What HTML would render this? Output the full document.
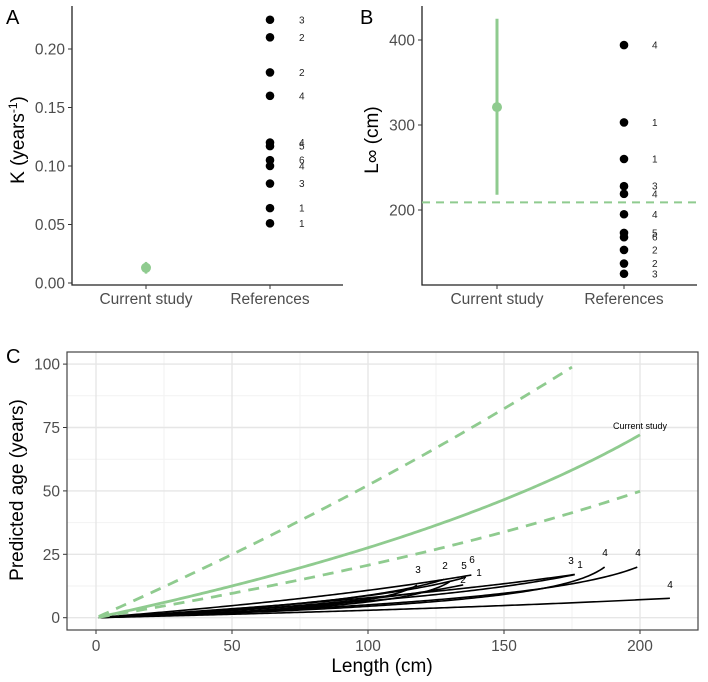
<!DOCTYPE html>
<html><head><meta charset="utf-8"><style>
html,body{margin:0;padding:0;background:#fff;}
svg{display:block;font-family:"Liberation Sans",sans-serif;}
</style></head><body>
<svg id="fig" width="708" height="682" viewBox="0 0 708 682">
<g id="pa"></g>
<g id="pb"></g>
<g id="pc"></g>
</svg>
<script>
// Panel A data
const kRefValues = [0.225,0.21,0.18,0.16,0.12,0.117,0.105,0.10,0.085,0.064,0.051];
const kRefLabels = ["3","2","2","4","4","5","6","4","3","1","1"];
const kCurrent = [0.013];
const kCurrentLow = [0.008];
const kCurrentHigh = [0.018];
const kTicks = [0,0.05,0.10,0.15,0.20];
const kTickLabels = ["0.00","0.05","0.10","0.15","0.20"];
// Panel B data
const lRefValues = [394,303,260,228,219,195,173,168,153,137,125];
const lRefLabels = ["4","1","1","3","4","4","5","6","2","2","3"];
const lCurrent = [321];
const lCurrentLow = [218];
const lCurrentHigh = [425];
const lDashed = [209];
const lTicks = [200,300,400];
// Panel C data
const curLinf = [321,600,400];
const curK = [0.01353,0.00349,0.0139];
const curLmax = [200,175,200];
const curDash = [false,true,true];
const refLinf = [394,219,195,228,303,260,168,173,153,137,125];
const refK = [0.10,0.12,0.16,0.087,0.051,0.045,0.104,0.117,0.12,0.21,0.225];
const refLmax = [211,199,187,176,176,138,136,135,128,130,118];
const cXTicks = [0,50,100,150,200];
const cYTicks = [0,25,50,75,100];

const NS="http://www.w3.org/2000/svg";
const GREEN="#8fcb8f";
function mk(parent,tag,attrs,text){const e=document.createElementNS(NS,tag);for(const k in attrs)e.setAttribute(k,attrs[k]);if(text!==undefined)e.textContent=text;parent.appendChild(e);return e;}

// ---------- Panel A ----------
const pa=document.getElementById('pa');
const yA=v=>283-v*1170;
const xCatA=[146,270];
let t=mk(pa,'text',{x:6,y:24,'font-size':20,fill:'#000'},'A');


let ax=mk(pa,'path',{d:'M72,6 V285 H343',stroke:'#222','stroke-width':1.3,fill:'none'});


kTicks.forEach((v,i)=>{
  mk(pa,'line',{x1:68,x2:72,y1:yA(v),y2:yA(v),stroke:'#333'});
  const e=mk(pa,'text',{x:65,y:yA(v)+5.5,'font-size':15.5,'text-anchor':'end',fill:'#4d4d4d'},kTickLabels[i]);
  
  
});
["Current study","References"].forEach((c,i)=>{
  mk(pa,'line',{x1:xCatA[i],x2:xCatA[i],y1:285,y2:289,stroke:'#333'});
  const e=mk(pa,'text',{x:xCatA[i],y:304,'font-size':15.5,'text-anchor':'middle',fill:'#4d4d4d'},c);
  
  
});
t=mk(pa,'text',{x:0,y:0,'font-size':19,'text-anchor':'middle',fill:'#000',transform:'translate(24,140) rotate(-90)'});


t.innerHTML='K (years<tspan dy="-7" font-size="12">-1</tspan><tspan dy="7">)</tspan>';
let eb=mk(pa,'line',{x1:xCatA[0],x2:xCatA[0],y1:yA(kCurrentLow[0]),y2:yA(kCurrentHigh[0]),stroke:GREEN,'stroke-width':2.5});


let cp=mk(pa,'circle',{cx:xCatA[0],cy:yA(kCurrent[0]),r:5,fill:GREEN});


kRefValues.forEach((v,i)=>{
  const c=mk(pa,'circle',{cx:xCatA[1],cy:yA(v),r:4.3,fill:'#000'});
  
  
  const l=mk(pa,'text',{x:299,y:yA(v)+3.5,'font-size':10,fill:'#222'},kRefLabels[i]);
  
  
});

// ---------- Panel B ----------
const pb=document.getElementById('pb');
const yB=v=>210-(v-200)*0.85;
const xCatB=[497,624];
t=mk(pb,'text',{x:360,y:24,'font-size':20,fill:'#000'},'B');


ax=mk(pb,'path',{d:'M422,6 V285 H697',stroke:'#222','stroke-width':1.3,fill:'none'});


lTicks.forEach(v=>{
  mk(pb,'line',{x1:418,x2:422,y1:yB(v),y2:yB(v),stroke:'#333'});
  const e=mk(pb,'text',{x:415,y:yB(v)+5.5,'font-size':15.5,'text-anchor':'end',fill:'#4d4d4d'},String(v));
  
  
});
["Current study","References"].forEach((c,i)=>{
  mk(pb,'line',{x1:xCatB[i],x2:xCatB[i],y1:285,y2:289,stroke:'#333'});
  const e=mk(pb,'text',{x:xCatB[i],y:304,'font-size':15.5,'text-anchor':'middle',fill:'#4d4d4d'},c);
  
  
});
t=mk(pb,'text',{x:0,y:0,'font-size':19,'text-anchor':'middle',fill:'#000',transform:'translate(378,140) rotate(-90)'},'L∞ (cm)');


let dl=mk(pb,'line',{x1:422,x2:697,y1:yB(lDashed[0]),y2:yB(lDashed[0]),stroke:GREEN,'stroke-width':2,'stroke-dasharray':'8,6'});


eb=mk(pb,'line',{x1:xCatB[0],x2:xCatB[0],y1:yB(lCurrentLow[0]),y2:yB(lCurrentHigh[0]),stroke:GREEN,'stroke-width':3});


cp=mk(pb,'circle',{cx:xCatB[0],cy:yB(lCurrent[0]),r:5,fill:GREEN});


lRefValues.forEach((v,i)=>{
  const c=mk(pb,'circle',{cx:xCatB[1],cy:yB(v),r:4.3,fill:'#000'});
  
  
  const l=mk(pb,'text',{x:652,y:yB(v)+3.5,'font-size':10,fill:'#222'},lRefLabels[i]);
  
  
});

// ---------- Panel C ----------
const pc=document.getElementById('pc');
const xC=L=>96+L*2.72;
const yC=v=>617.7-v*2.536;
const PL=67,PR=698,PT=352,PB=630;
t=mk(pc,'text',{x:6,y:363,'font-size':20,fill:'#000'},'C');


[-12.5,12.5,37.5,62.5,87.5].forEach(v=>{if(yC(v)>PT&&yC(v)<PB)mk(pc,'line',{x1:PL,x2:PR,y1:yC(v),y2:yC(v),stroke:'#f2f2f2','stroke-width':1});});
[25,75,125,175,-25].forEach(v=>{if(xC(v)>PL&&xC(v)<PR)mk(pc,'line',{x1:xC(v),x2:xC(v),y1:PT,y2:PB,stroke:'#f2f2f2','stroke-width':1});});
cYTicks.forEach(v=>{
  mk(pc,'line',{x1:PL,x2:PR,y1:yC(v),y2:yC(v),stroke:'#e6e6e6','stroke-width':1.4});
  mk(pc,'line',{x1:PL-4,x2:PL,y1:yC(v),y2:yC(v),stroke:'#333'});
  const e=mk(pc,'text',{x:PL-7,y:yC(v)+5.5,'font-size':15.5,'text-anchor':'end',fill:'#4d4d4d'},String(v));
  
  
});
cXTicks.forEach(v=>{
  mk(pc,'line',{x1:xC(v),x2:xC(v),y1:PT,y2:PB,stroke:'#e6e6e6','stroke-width':1.4});
  mk(pc,'line',{x1:xC(v),x2:xC(v),y1:PB,y2:PB+4,stroke:'#333'});
  const e=mk(pc,'text',{x:xC(v),y:PB+21,'font-size':15.5,'text-anchor':'middle',fill:'#4d4d4d'},String(v));
  
  
});
function curvePath(Linf,K,Lmax){
  let d='';
  for(let L=1;L<=Lmax+0.001;L+=1){
    const a=-Math.log(1-L/Linf)/K;
    d+=(d?'L':'M')+xC(L).toFixed(2)+','+yC(a).toFixed(2);
  }
  return d;
}
refLinf.forEach((Linf,i)=>{
  const p=mk(pc,'path',{d:curvePath(Linf,refK[i],refLmax[i]),stroke:'#000','stroke-width':1.6,fill:'none'});
  
  
});
curLinf.forEach((Linf,i)=>{
  const p=mk(pc,'path',{d:curvePath(Linf,curK[i],curLmax[i]),stroke:GREEN,'stroke-width':2.8,fill:'none'});
  if(curDash[i])p.setAttribute('stroke-dasharray','11,8');
  
  
});
const curveLabels=[["3",418,573],["2",445,569],["5",464,569],["6",472,563],["1",479,576],["2",463,583],["3",571,564],["1",580,568],["4",605,556],["4",638,556],["4",670,588],["Current study",640,429]];
curveLabels.forEach(c=>{
  const e=mk(pc,'text',{x:c[1],y:c[2],'font-size':c[0].length>1?9:10,'text-anchor':'middle',fill:'#000'},c[0]);
  
  
});
let bd=mk(pc,'rect',{x:PL,y:PT,width:PR-PL,height:PB-PT,fill:'none',stroke:'#444','stroke-width':1.2});


t=mk(pc,'text',{x:382,y:672,'font-size':19,'text-anchor':'middle',fill:'#000'},'Length (cm)');


t=mk(pc,'text',{x:0,y:0,'font-size':19,'text-anchor':'middle',fill:'#000',transform:'translate(23,490) rotate(-90)'},'Predicted age (years)');


</script>
</body></html>
